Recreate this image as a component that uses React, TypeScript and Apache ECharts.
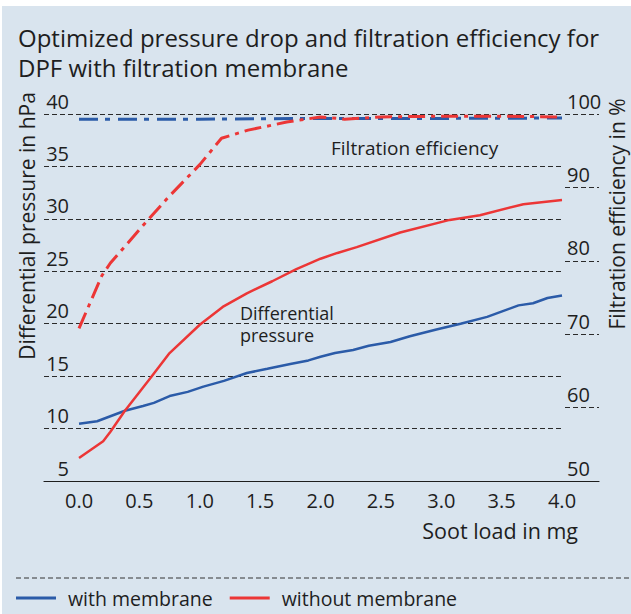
import React, { useEffect, useRef } from "react";
import * as echarts from "echarts";

const FONT = "Open Sans";
const BLUE = "#2b5ba8";
const RED = "#ec3636";
const BG = "#d9e4ee";
const INK = "#1e1e1e";

const titleText = "Optimized pressure drop and filtration efficiency for\nDPF with filtration membrane";
const leftAxisName = "Differential pressure in hPa";
const rightAxisName = "Filtration efficiency in %";
const xAxisName = "Soot load in mg";
const effNote = "Filtration efficiency";
const dpNote = "Differential\npressure";
const seriesNames = ["with membrane", "without membrane"];

const xTicks = [0, 0.5, 1, 1.5, 2, 2.5, 3, 3.5, 4];

// differential pressure, hPa
const withMembraneDP: [number, number][] = [
  [0, 10.45], [0.15, 10.7], [0.38, 11.7], [0.53, 12.15], [0.62, 12.45], [0.75, 13.1],
  [0.9, 13.5], [1.03, 14.0], [1.2, 14.55], [1.39, 15.3], [1.56, 15.7], [1.75, 16.15],
  [1.9, 16.5], [2.0, 16.85], [2.12, 17.2], [2.27, 17.5], [2.4, 17.9], [2.58, 18.25],
  [2.74, 18.8], [2.96, 19.45], [3.16, 20.0], [3.38, 20.65], [3.51, 21.2], [3.64, 21.75],
  [3.76, 21.95], [3.88, 22.45], [4.0, 22.7],
];
const withoutMembraneDP: [number, number][] = [
  [0, 7.2], [0.2, 8.8], [0.26, 9.7], [0.38, 11.7], [0.59, 14.8], [0.75, 17.2],
  [1.0, 19.9], [1.19, 21.6], [1.39, 22.9], [1.6, 24.05], [1.8, 25.2], [1.91, 25.75],
  [2.0, 26.2], [2.14, 26.75], [2.3, 27.3], [2.66, 28.7], [3.07, 29.9], [3.32, 30.35],
  [3.68, 31.4], [4.0, 31.8],
];

// filtration efficiency, %
const withMembraneEff: [number, number][] = [
  [0, 99.3], [1.0, 99.3], [2.0, 99.4], [3.0, 99.4], [4.0, 99.45],
];
const withoutMembraneEff: [number, number][] = [
  [0, 70.8], [0.19, 78.0], [0.26, 79.7], [0.53, 84.8], [0.73, 88.5], [1.0, 93.1],
  [1.18, 96.7], [1.4, 97.8], [1.72, 98.9], [2.0, 99.6], [2.2, 99.3], [2.5, 99.6],
  [3.0, 99.7], [3.5, 99.7], [4.0, 99.6],
];

const GRID_TOP = 114;
const GRID_H = 367;

export default function App() {
  const ref = useRef<HTMLDivElement>(null);
  useEffect(() => {
    if (!ref.current) return;
    const chart = echarts.init(ref.current, null, { renderer: "svg" });
    const dashed = { color: "#2a2a2a", width: 1, type: [5, 3] as number[] };
    const option: any = {
      animation: false,
      textStyle: { fontFamily: FONT },
      grid: [
        { left: 44, top: GRID_TOP, width: 518, height: GRID_H },
        { left: 562, top: GRID_TOP, width: 37, height: GRID_H },
      ],
      xAxis: [
        {
          type: "value",
          gridIndex: 0,
          min: -0.29,
          max: 4,
          axisLine: { show: true, lineStyle: { color: INK, width: 1.2 } },
          axisTick: { show: false },
          splitLine: { show: false },
          axisLabel: {
            customValues: xTicks,
            formatter: (v: number) => v.toFixed(1),
            color: INK,
            fontSize: 20,
            fontFamily: FONT,
            margin: 9,
          },
        },
        {
          type: "value",
          gridIndex: 1,
          min: 0,
          max: 1,
          axisLine: { show: true, lineStyle: { color: INK, width: 1.2 } },
          axisTick: { show: false },
          splitLine: { show: false },
          axisLabel: { show: false },
        },
      ],
      yAxis: [
        {
          type: "value",
          gridIndex: 0,
          position: "left",
          min: 5,
          max: 40,
          interval: 5,
          axisLine: { show: false },
          axisTick: { show: false },
          splitLine: { show: true, lineStyle: dashed },
          axisLabel: {
            color: INK,
            fontSize: 20,
            fontFamily: FONT,
            align: "right",
            verticalAlign: "bottom",
            margin: -25,
            padding: [0, 0, 3, 0],
          },
        },
        {
          type: "value",
          gridIndex: 1,
          position: "left",
          min: 50,
          max: 100,
          interval: 10,
          axisLine: { show: false },
          axisTick: { show: false },
          splitLine: { show: true, lineStyle: { ...dashed, dashOffset: 5 } },
          axisLabel: {
            inside: true,
            color: INK,
            fontSize: 20,
            fontFamily: FONT,
            align: "left",
            verticalAlign: "bottom",
            margin: 5,
            padding: [0, 0, 3, 0],
          },
        },
        {
          type: "value",
          gridIndex: 0,
          min: 50,
          max: 100,
          show: false,
          splitLine: { show: false },
        },
      ],
      legend: {
        data: seriesNames,
        left: 16,
        top: 588,
        padding: 0,
        itemWidth: 40,
        itemHeight: 3,
        itemGap: 17,
        icon: "rect",
        textStyle: { color: INK, fontSize: 19.5, fontFamily: FONT, padding: [0, 0, 0, 7] },
      },
      graphic: [
        {
          type: "rect",
          z: -100,
          silent: true,
          shape: { x: 2, y: 6, width: 629, height: 608 },
          style: { fill: BG },
        },
        {
          type: "text",
          x: 18,
          y: 22.5,
          style: {
            text: titleText,
            fill: INK,
            font: `24px "${FONT}"`,
            lineHeight: 30,
            textVerticalAlign: "top",
          },
        },
        {
          type: "text",
          x: 27,
          y: 226,
          rotation: Math.PI / 2,
          style: {
            text: leftAxisName,
            fill: INK,
            font: `21px "${FONT}"`,
            lineHeight: 22,
            textAlign: "center",
            textVerticalAlign: "middle",
          },
        },
        {
          type: "text",
          x: 617,
          y: 214,
          rotation: Math.PI / 2,
          style: {
            text: rightAxisName,
            fill: INK,
            font: `21px "${FONT}"`,
            lineHeight: 20,
            textAlign: "center",
            textVerticalAlign: "middle",
          },
        },
        {
          type: "text",
          x: 578,
          y: 530,
          style: {
            text: xAxisName,
            fill: INK,
            font: `21.5px "${FONT}"`,
            textAlign: "right",
            textVerticalAlign: "middle",
          },
        },
        {
          type: "text",
          x: 331,
          y: 148,
          style: {
            text: effNote,
            fill: INK,
            font: `19px "${FONT}"`,
            textVerticalAlign: "middle",
          },
        },
        {
          type: "text",
          x: 240,
          y: 302,
          style: {
            text: dpNote,
            fill: INK,
            font: `18px "${FONT}"`,
            lineHeight: 22,
            textVerticalAlign: "top",
          },
        },
        {
          type: "line",
          silent: true,
          shape: { x1: 16, y1: 578, x2: 631, y2: 578 },
          style: { stroke: "#333", lineWidth: 1, lineDash: [5, 3] },
        },
      ],
      series: [
        {
          type: "line",
          name: seriesNames[0],
          xAxisIndex: 0,
          yAxisIndex: 0,
          data: withMembraneDP,
          symbol: "none",
          itemStyle: { color: BLUE },
          lineStyle: { color: BLUE, width: 2.5 },
          z: 3,
        },
        {
          type: "line",
          name: seriesNames[1],
          xAxisIndex: 0,
          yAxisIndex: 0,
          data: withoutMembraneDP,
          symbol: "none",
          itemStyle: { color: RED },
          lineStyle: { color: RED, width: 2.5 },
          z: 4,
        },
        {
          type: "line",
          name: seriesNames[0],
          xAxisIndex: 0,
          yAxisIndex: 2,
          data: withMembraneEff,
          symbol: "none",
          itemStyle: { color: BLUE },
          lineStyle: { color: BLUE, width: 3, type: [19, 7, 5, 8] },
          z: 3,
        },
        {
          type: "line",
          name: seriesNames[1],
          xAxisIndex: 0,
          yAxisIndex: 2,
          data: withoutMembraneEff,
          symbol: "none",
          itemStyle: { color: RED },
          lineStyle: { color: RED, width: 3, type: [17, 6, 4, 6] },
          z: 4,
        },
      ],
    };
    chart.setOption(option);
    return () => chart.dispose();
  }, []);
  return (
    <div
      ref={ref}
      style={{ position: "absolute", left: 0, top: 0, width: 631, height: 614 }}
    />
  );
}
